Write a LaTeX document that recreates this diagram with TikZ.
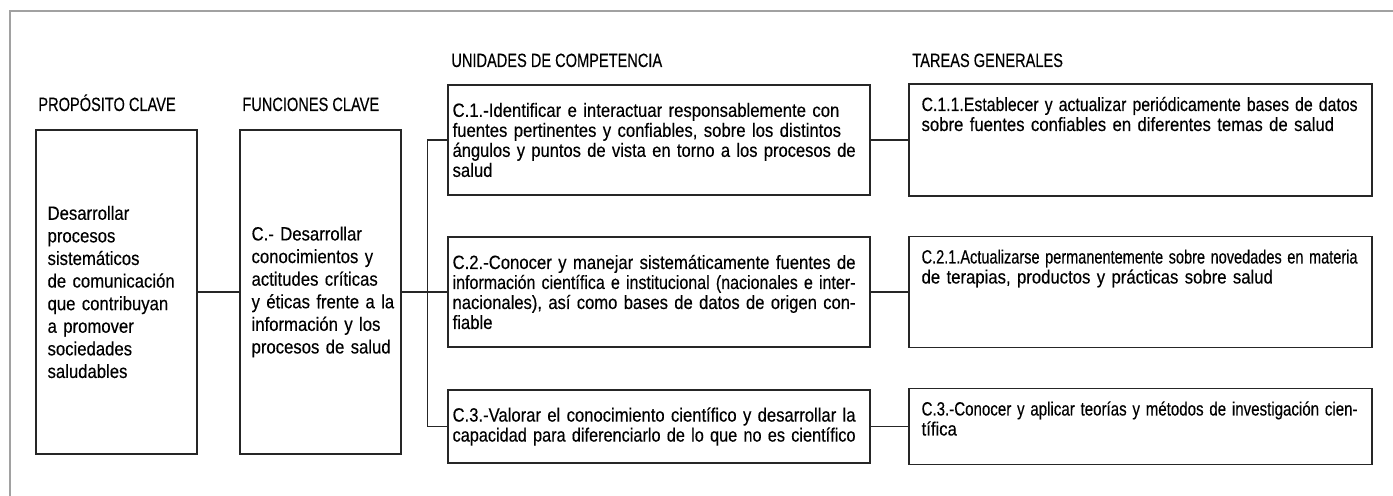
\documentclass[tikz,border=0pt]{standalone}
\usepackage{fontspec}
\setmainfont[FakeStretch=0.87,FakeBold=0.3]{Liberation Sans}
\newfontfamily\capsfont[FakeStretch=0.76,FakeBold=0.3]{Liberation Sans}
\usepackage{graphicx}
\usepackage{tikz}
\newcommand{\fitline}[1]{\setbox0=\hbox{#1}\leavevmode\ifdim\wd0>\linewidth\resizebox{\linewidth}{\height}{#1}\else\hbox to\linewidth{#1}\fi\par}
\tikzset{
        frame/.style={draw=black!37, line width=1.4pt},
        title/.style={anchor=base west, inner sep=0pt, font=\capsfont\fontsize{9.6}{11}\selectfont},
        bigbox/.style={draw=black!85, line width=0.8pt, minimum width=80.5pt, minimum height=162pt, inner sep=0pt},
        cbox/.style={draw=black!85, line width=0.8pt, minimum width=211pt, inner sep=0pt},
        tbox/.style={draw=black!85, line width=0.8pt, minimum width=231.5pt, inner sep=0pt},
        bigtext/.style={anchor=west, inner sep=0pt, text width=75pt, align=left,
                font=\fontsize{9.6}{11.3}\selectfont},
        ctext/.style={anchor=west, inner sep=0pt, text width=201.5pt, align=left,
                font=\fontsize{9.6}{10}\selectfont},
        ttext/.style={anchor=base west, inner sep=0pt, text width=218pt, align=left,
                font=\fontsize{9.6}{10}\selectfont},
        link/.style={draw=black!85, line width=0.7pt}
}
\begin{document}
\begin{tikzpicture}[x=0.5pt,y=-0.5pt]
        \useasboundingbox (0,0) rectangle (1393,496);
        \draw[frame] (10,510) -- (10,11) -- (1400,11);
        \node[title] (lprop) at (38,111) {PROPÓSITO CLAVE};
        \node[title] (lfunc) at (242,111) {FUNCIONES CLAVE};
        \node[title] (lunid) at (451,67) {UNIDADES DE COMPETENCIA};
        \node[title] (ltar) at (912,67) {TAREAS GENERALES};
        \node[bigbox] (prop) at (116.5,292) {};
        \node[bigbox] (func) at (320.5,292) {};
        \node[cbox, minimum height=55pt] (c1) at (659,140) {};
        \node[cbox, minimum height=55pt] (c2) at (659,292) {};
        \node[cbox, minimum height=36.5pt] (c3) at (659,426.5) {};
        \node[tbox, minimum height=56pt] (t1) at (1140.5,140) {};
        \node[tbox, minimum height=55.5pt] (t2) at (1140.5,292) {};
        \node[tbox, minimum height=38pt] (t3) at (1140.5,426.5) {};
        \node[bigtext] (proptxt) at ([xshift=6pt]prop.west) {Desarrollar\\procesos\\sistemáticos\\de comunicación\\que contribuyan\\a promover\\sociedades\\saludables};
        \node[bigtext] (functxt) at ([xshift=6pt]func.west) {C.- Desarrollar\\conocimientos y\\actitudes críticas\\y éticas frente a la\\información y los\\procesos de salud};
        \node[ctext] (c1txt) at ([xshift=2.5pt]c1.west) {%
                \fitline{C.1.-Identificar e interactuar responsablemente con}
                \fitline{fuentes pertinentes y confiables, sobre los distintos}
                \fitline{ángulos y puntos de vista en torno a los procesos de}
                salud};
        \node[ctext] (c2txt) at ([xshift=2.5pt]c2.west) {%
                \fitline{C.2.-Conocer y manejar sistemáticamente fuentes de}
                \fitline{información científica e institucional (nacionales e inter-}
                \fitline{nacionales), así como bases de datos de origen con-}
                fiable};
        \node[ctext] (c3txt) at ([xshift=2.5pt]c3.west) {%
                \fitline{C.3.-Valorar el conocimiento científico y desarrollar la}
                \fitline{capacidad para diferenciarlo de lo que no es científico}};
        \node[ttext] (t1txt) at ([xshift=6.5pt,yshift=-13.9pt]t1.north west) {%
                \fitline{C.1.1.Establecer y actualizar periódicamente bases de datos}
                sobre fuentes confiables en diferentes temas de salud};
        \node[ttext] (t2txt) at ([xshift=6.5pt,yshift=-13.9pt]t2.north west) {%
                \fitline{C.2.1.Actualizarse permanentemente sobre novedades en materia}
                de terapias, productos y prácticas sobre salud};
        \node[ttext] (t3txt) at ([xshift=6.5pt,yshift=-13.9pt]t3.north west) {%
                \fitline{C.3.-Conocer y aplicar teorías y métodos de investigación cien-}
                tífica};
        \draw[link] (prop) -- (func);
        \draw[link] (func) -- (c2);
        \draw[link] (c1.west) -- ++(-20,0) |- (c3.west);
        \foreach \i in {1,2,3}
                \draw[link] (c\i) -- (t\i);
\end{tikzpicture}
\end{document}
